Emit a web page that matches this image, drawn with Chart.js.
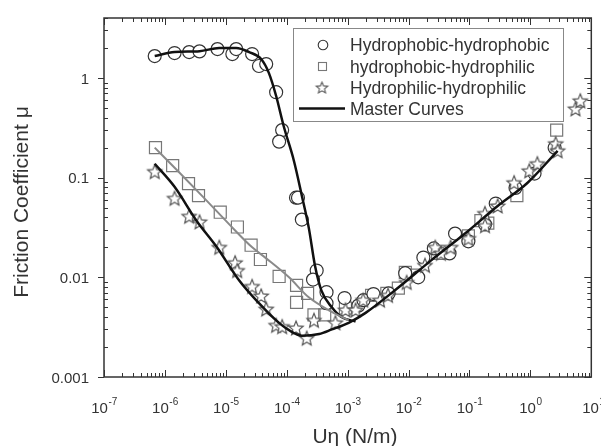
<!DOCTYPE html>
<html>
<head>
<meta charset="utf-8">
<script src="https://cdn.jsdelivr.net/npm/chart.js@4.4.0/dist/chart.umd.min.js"></script>
<style>
  html, body { margin: 0; padding: 0; background: #fff; }
  canvas { display: block; }
</style>
</head>
<body>
<canvas id="frictionChart" width="601" height="446"></canvas>
<script>
// Hydrophobic-hydrophobic (circles)
var phobPhobX = [6.8e-7, 1.44e-6, 2.5e-6, 3.7e-6, 7.3e-6, 1.28e-5, 1.48e-5, 2.7e-5, 3.5e-5, 4.6e-5, 6.7e-5, 8.4e-5, 7.5e-5,
  1.42e-4, 1.53e-4, 1.77e-4, 3.1e-4, 2.7e-4, 4.5e-4, 4.5e-4, 8.9e-4, 1.5e-3, 1.82e-3, 2.65e-3, 4.7e-3, 8.8e-3, 1.44e-2,
  1.75e-2, 2.6e-2, 4.7e-2, 5.8e-2, 9.6e-2, 0.18, 0.27, 0.57, 1.17, 2.5];
var phobPhobY = [1.66, 1.78, 1.82, 1.85, 1.95, 1.74, 1.95, 1.74, 1.32, 1.38, 0.72, 0.30, 0.23,
  0.063, 0.063, 0.038, 0.0117, 0.0095, 0.0071, 0.0055, 0.0062, 0.0052, 0.0059, 0.0068, 0.0069, 0.011, 0.010,
  0.0158, 0.0195, 0.0174, 0.0275, 0.023, 0.034, 0.055, 0.079, 0.11, 0.2];

// hydrophobic-hydrophilic (squares)
var phobPhilX = [7.0e-7, 1.34e-6, 2.44e-6, 3.56e-6, 8.1e-6, 1.55e-5, 2.6e-5, 3.7e-5, 7.5e-5, 1.45e-4, 2.2e-4, 1.45e-4,
  2.8e-4, 4.2e-4, 9.2e-4, 2.47e-3, 4.4e-3, 6.8e-3, 8.85e-3, 1.27e-2, 3.0e-2, 9.6e-2, 0.154, 0.2, 0.6, 2.7];
var phobPhilY = [0.2, 0.132, 0.087, 0.066, 0.045, 0.032, 0.021, 0.0151, 0.0102, 0.0083, 0.0069, 0.0056,
  0.0042, 0.0042, 0.0049, 0.0066, 0.0069, 0.0078, 0.0112, 0.0105, 0.0174, 0.026, 0.037, 0.035, 0.066, 0.30];

// Hydrophilic-hydrophilic (stars)
var philPhilX = [6.8e-7, 1.44e-6, 2.5e-6, 3.7e-6, 7.8e-6, 1.42e-5, 1.54e-5, 2.7e-5, 3.8e-5, 4.6e-5, 6.7e-5, 8.4e-5,
  1.42e-4, 2.13e-4, 2.8e-4, 6.3e-4, 9.2e-4, 1.35e-3, 1.8e-3, 3.4e-3, 4.6e-3, 9.3e-3, 1.86e-2, 2.74e-2, 3.4e-2, 4.9e-2,
  9.6e-2, 0.179, 0.18, 0.29, 0.54, 0.96, 1.3, 2.6, 2.8, 5.5, 6.6];
var philPhilY = [0.115, 0.062, 0.041, 0.036, 0.020, 0.014, 0.0117, 0.0081, 0.0065, 0.0048, 0.0033, 0.0032,
  0.0031, 0.00245, 0.0037, 0.0035, 0.0047, 0.0047, 0.0059, 0.0059, 0.0066, 0.0089, 0.0132, 0.020, 0.0174, 0.020,
  0.0245, 0.0437, 0.033, 0.052, 0.089, 0.117, 0.138, 0.219, 0.186, 0.49, 0.59];

// master curves
var masterPhobX = [6.8e-7, 1.44e-6, 3.7e-6, 7.8e-6, 1.48e-5, 2.41e-5, 3.8e-5, 5.1e-5, 6.7e-5, 8.9e-5, 1.31e-4,
  1.77e-4, 2.31e-4, 2.9e-4, 3.7e-4, 5.5e-4, 7.9e-4, 1.35e-3];
var masterPhobY = [1.66, 1.82, 1.86, 2.0, 2.0, 1.82, 1.55, 1.12, 0.66, 0.33, 0.148,
  0.066, 0.031, 0.0132, 0.0074, 0.005, 0.004, 0.0036];

var masterMixX = [6.8e-7, 1.74e-6, 4.46e-6, 1.14e-5, 2.71e-5, 4.6e-5, 1.09e-4, 2.3e-4, 5.5e-4, 1.04e-3];
var masterMixY = [0.2, 0.112, 0.062, 0.034, 0.02, 0.0155, 0.01, 0.0063, 0.0045, 0.0037];

var masterPhilX = [6.8e-7, 1.44e-6, 3.3e-6, 7.0e-6, 1.66e-5, 3.5e-5, 6.7e-5, 1.09e-4, 1.77e-4, 3.4e-4, 5.5e-4,
  1.04e-3, 1.97e-3, 6.8e-3, 0.0235, 0.0845, 0.29, 0.90, 2.8];
var masterPhilY = [0.138, 0.081, 0.037, 0.0204, 0.0093, 0.0055, 0.0037, 0.00295, 0.0026, 0.0027, 0.0030,
  0.0035, 0.0044, 0.0079, 0.0148, 0.0275, 0.052, 0.089, 0.186];

// tick labels
var xTickExps = ["-7", "-6", "-5", "-4", "-3", "-2", "-1", "0", "1"];
var yTickValues = [0.001, 0.01, 0.1, 1];
var yTickLabels = ["0.001", "0.01", "0.1", "1"];

var legendLabels = ["Hydrophobic-hydrophobic", "hydrophobic-hydrophilic", "Hydrophilic-hydrophilic", "Master Curves"];

var FONT = "'Liberation Sans', Arial, sans-serif";
var TEXT = "#333";

function pts(xs, ys) {
  return xs.map(function (x, i) { return { x: x, y: ys[i] }; });
}

function makeStar(r, color, lw) {
  var c = document.createElement("canvas");
  var s = Math.ceil(r * 2 + lw * 2 + 2);
  c.width = s; c.height = s;
  var g = c.getContext("2d");
  g.beginPath();
  for (var i = 0; i < 10; i++) {
    var rad = i % 2 === 0 ? r : r * 0.45;
    var ang = -Math.PI / 2 + i * Math.PI / 5;
    var px = s / 2 + rad * Math.cos(ang), py = s / 2 + 0.6 + rad * Math.sin(ang);
    if (i === 0) g.moveTo(px, py); else g.lineTo(px, py);
  }
  g.closePath();
  g.fillStyle = "#fff"; g.fill();
  g.strokeStyle = color; g.lineWidth = lw; g.stroke();
  return c;
}

var starImg = makeStar(7.5, "#555", 1.2);
var starLegend = makeStar(6, "#555", 1.1);

function seg(ctx, x1, y1, x2, y2) {
  ctx.beginPath(); ctx.moveTo(x1, y1); ctx.lineTo(x2, y2); ctx.stroke();
}

var axesPlugin = {
  id: "axesFrame",
  afterDatasetsDraw: function (chart) {
    var ctx = chart.ctx, a = chart.chartArea, xs = chart.scales.x, ys = chart.scales.y;
    ctx.save();
    ctx.strokeStyle = "#333";
    ctx.lineWidth = 1.5;
    ctx.strokeRect(a.left, a.top, a.right - a.left, a.bottom - a.top);
    ctx.lineWidth = 1;
    // x ticks, bottom and top, pointing inward
    for (var e = -7; e <= 1; e++) {
      for (var m = 1; m <= 9; m++) {
        var v = m * Math.pow(10, e);
        if (v < xs.min * 0.999 || v > xs.max * 1.001) continue;
        var px = Math.round(xs.getPixelForValue(v)) + 0.5;
        var len = m === 1 ? 7 : 4;
        seg(ctx, px, a.bottom, px, a.bottom - len);
        seg(ctx, px, a.top, px, a.top + len);
      }
    }
    // y ticks: majors outward on the left, minors inward
    for (var e2 = -3; e2 <= 0; e2++) {
      for (var m2 = 1; m2 <= 9; m2++) {
        var v2 = m2 * Math.pow(10, e2);
        if (v2 < ys.min * 0.999 || v2 > ys.max * 1.001) continue;
        var py = Math.round(ys.getPixelForValue(v2)) + 0.5;
        if (m2 === 1) {
          seg(ctx, a.left - 6, py, a.left, py);
          seg(ctx, a.right, py, a.right - 7, py);
        } else {
          seg(ctx, a.left, py, a.left + 4, py);
          seg(ctx, a.right, py, a.right - 4, py);
        }
      }
    }
    // y tick labels
    ctx.fillStyle = TEXT;
    ctx.font = "15px " + FONT;
    ctx.textAlign = "right";
    ctx.textBaseline = "alphabetic";
    yTickValues.forEach(function (v, i) {
      ctx.fillText(yTickLabels[i], 89, ys.getPixelForValue(v) + 5.5);
    });
    // x tick labels 10^n
    xTickExps.forEach(function (ex) {
      var v = Math.pow(10, Number(ex));
      var cx = xs.getPixelForValue(v);
      ctx.font = "15px " + FONT;
      var wb = ctx.measureText("10").width;
      ctx.font = "10px " + FONT;
      var we = ctx.measureText(ex).width;
      var x0 = cx - (wb + we) / 2 + (ex === "1" ? 2 : 0);
      ctx.textAlign = "left";
      ctx.font = "15px " + FONT;
      ctx.fillText("10", x0, 413);
      ctx.font = "10px " + FONT;
      ctx.fillText(ex, x0 + wb + 0.5, 405);
    });
    // axis titles
    ctx.font = "21px " + FONT;
    ctx.textAlign = "center";
    ctx.fillText("U\u03b7 (N/m)", 355, 443);
    ctx.save();
    ctx.translate(28, 202);
    ctx.rotate(-Math.PI / 2);
    ctx.fillText("Friction Coefficient \u03bc", 0, 0);
    ctx.restore();
    ctx.restore();
  }
};

var legendPlugin = {
  id: "boxLegend",
  afterDraw: function (chart) {
    var ctx = chart.ctx;
    ctx.save();
    ctx.fillStyle = "#fff";
    ctx.fillRect(293, 28, 270, 93);
    ctx.strokeStyle = "#888";
    ctx.lineWidth = 1;
    ctx.strokeRect(293.5, 28.5, 270, 93);
    var rows = [45, 66.5, 87.5, 108.5];
    // circle
    ctx.strokeStyle = "#333"; ctx.lineWidth = 1.1;
    ctx.beginPath(); ctx.arc(323, rows[0], 4.8, 0, Math.PI * 2); ctx.stroke();
    // square
    ctx.strokeStyle = "#777";
    ctx.strokeRect(318.5, rows[1] - 4, 8, 8);
    // star
    ctx.drawImage(starLegend, 322 - starLegend.width / 2, rows[2] - starLegend.height / 2);
    // line
    ctx.strokeStyle = "#111"; ctx.lineWidth = 2.5;
    seg(ctx, 299, rows[3], 345, rows[3]);
    ctx.fillStyle = TEXT;
    ctx.font = "17.5px " + FONT;
    ctx.textAlign = "left";
    ctx.textBaseline = "alphabetic";
    legendLabels.forEach(function (t, i) {
      ctx.fillText(t, 350, rows[i] + 6.3);
    });
    ctx.restore();
  }
};

var ctx = document.getElementById("frictionChart").getContext("2d");
var chart = new Chart(ctx, {
  type: "scatter",
  data: {
    datasets: [
      {
        label: legendLabels[0],
        data: pts(phobPhobX, phobPhobY),
        pointStyle: "circle",
        pointRadius: 6.5,
        borderColor: "#333",
        backgroundColor: "#fff",
        borderWidth: 1.2,
        order: 2
      },
      {
        label: legendLabels[1],
        data: pts(phobPhilX, phobPhilY),
        pointStyle: "rect",
        pointRadius: 8.5,
        borderColor: "#777",
        backgroundColor: "rgba(255,255,255,0)",
        borderWidth: 1.2,
        order: 3
      },
      {
        label: legendLabels[2],
        data: pts(philPhilX, philPhilY),
        pointStyle: starImg,
        pointRadius: 8,
        order: 1
      },
      {
        label: "master mixed",
        data: pts(masterMixX, masterMixY),
        showLine: true,
        pointRadius: 0,
        borderColor: "#8a8a8a",
        borderWidth: 2,
        cubicInterpolationMode: "monotone",
        order: 0
      },
      {
        label: "master hydrophobic",
        data: pts(masterPhobX, masterPhobY),
        showLine: true,
        pointRadius: 0,
        borderColor: "#111",
        borderWidth: 2.5,
        cubicInterpolationMode: "monotone",
        order: 0
      },
      {
        label: "master hydrophilic",
        data: pts(masterPhilX, masterPhilY),
        showLine: true,
        pointRadius: 0,
        borderColor: "#111",
        borderWidth: 2.5,
        cubicInterpolationMode: "monotone",
        order: 0
      }
    ]
  },
  options: {
    responsive: false,
    animation: false,
    layout: { padding: { left: 104, right: 7, top: 18, bottom: 69 } },
    plugins: {
      legend: { display: false },
      tooltip: { enabled: false }
    },
    scales: {
      x: { type: "logarithmic", min: 1e-7, max: 10, display: false },
      y: { type: "logarithmic", min: 0.001, max: 4, display: false }
    }
  },
  plugins: [axesPlugin, legendPlugin]
});
</script>
</body>
</html>
